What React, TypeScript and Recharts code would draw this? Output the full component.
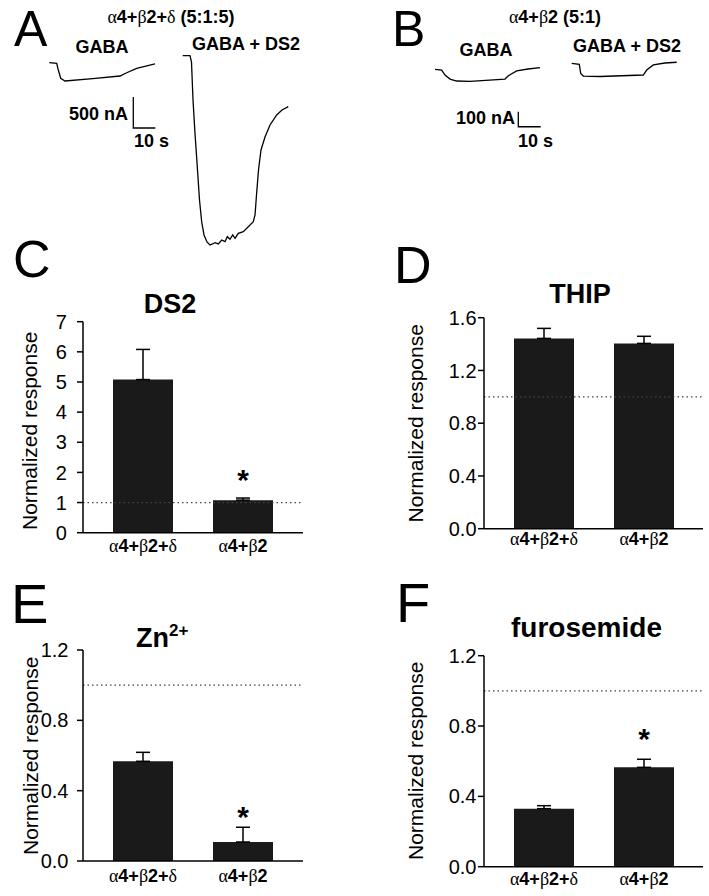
import React from 'react';
import { BarChart, Bar, XAxis, YAxis, ErrorBar, ReferenceLine, LineChart, Line, LabelList } from 'recharts';

const FONT = "'Liberation Sans', Arial, Helvetica, sans-serif";
const GREEK_FONT = "'Liberation Serif', 'Times New Roman', serif";

// ---------- bar data ----------
const receptors = ['α4+β2+δ', 'α4+β2'];

const ds2Means = [5.08, 1.08];
const ds2Errors = [1.0, 0.07];
const ds2Sig = [false, true];

const thipMeans = [1.443, 1.405];
const thipErrors = [0.076, 0.054];
const thipSig = [false, false];

const zincMeans = [0.567, 0.108];
const zincErrors = [0.051, 0.084];
const zincSig = [false, true];

const furoMeans = [0.33, 0.565];
const furoErrors = [0.017, 0.046];
const furoSig = [false, true];

const ds2Ticks = [0, 1, 2, 3, 4, 5, 6, 7];
const thipTicks = [0, 0.4, 0.8, 1.2, 1.6];
const lowTicks = [0, 0.4, 0.8, 1.2];

// ---------- trace data (time s, current nA) ----------
const traceAGaba = [
  { t: 4.23, i: -11 }, { t: 7.59, i: -21 }, { t: 8.32, i: -129 }, { t: 9.41, i: -263 },
  { t: 11.36, i: -306 }, { t: 24.0, i: -268 }, { t: 36.36, i: -226 }, { t: 39.41, i: -173 },
  { t: 43.95, i: -102 }, { t: 52.27, i: -32 },
];
const traceADs2 = [
  { t: 64.86, i: 102 }, { t: 68.18, i: 102 }, { t: 68.86, i: 0 }, { t: 69.55, i: -613 },
  { t: 70.45, i: -1150 }, { t: 71.59, i: -1742 }, { t: 72.5, i: -2226 }, { t: 73.5, i: -2581 },
  { t: 74.55, i: -2790 }, { t: 75.91, i: -2903 }, { t: 77.27, i: -2952 }, { t: 78.41, i: -2935 },
  { t: 79.55, i: -2915 }, { t: 81.05, i: -2935 }, { t: 82.59, i: -2871 }, { t: 84.09, i: -2898 },
  { t: 85.14, i: -2818 }, { t: 86.36, i: -2860 }, { t: 87.59, i: -2790 }, { t: 88.64, i: -2844 },
  { t: 90.14, i: -2763 }, { t: 92.41, i: -2737 }, { t: 94.68, i: -2656 }, { t: 96.95, i: -2576 },
  { t: 97.73, i: -2468 }, { t: 98.41, i: -2145 }, { t: 99.32, i: -1742 }, { t: 100.45, i: -1419 },
  { t: 102.27, i: -1210 }, { t: 104.55, i: -1016 }, { t: 107.59, i: -855 }, { t: 110.0, i: -774 },
  { t: 112.86, i: -721 },
];
const scaleBarA = [{ t: 42.41, i: -564.5 }, { t: 42.41, i: -1064.5 }, { t: 52.41, i: -1064.5 }];

const traceBGaba = [
  { t: 6.82, i: 0 }, { t: 9.86, i: -5 }, { t: 11.36, i: -38 }, { t: 13.64, i: -65 },
  { t: 16.68, i: -78 }, { t: 22.73, i: -81 }, { t: 38.64, i: -65 }, { t: 40.14, i: -43 },
  { t: 43.95, i: -11 }, { t: 49.09, i: 2 }, { t: 54.55, i: 11 },
];
const traceBDs2 = [
  { t: 68.95, i: 40 }, { t: 72.41, i: 33 }, { t: 73.05, i: -27 }, { t: 74.23, i: -45 },
  { t: 81.82, i: -48 }, { t: 101.5, i: -38 }, { t: 103.05, i: -5 }, { t: 106.05, i: 29 },
  { t: 111.36, i: 42 }, { t: 116.68, i: 47 },
];
const scaleBarB = [{ t: 44.68, i: -283 }, { t: 44.68, i: -383 }, { t: 54.86, i: -383 }];

// ---------- helpers ----------
const GREEK = /[αβδ]/;
function mixed(label: string) {
  const parts: { s: string; g: boolean }[] = [];
  for (const ch of label) {
    const g = GREEK.test(ch);
    const last = parts[parts.length - 1];
    if (last && last.g === g) last.s += ch;
    else parts.push({ s: ch, g });
  }
  return parts.map((p, k) => (
    <tspan key={k} fontFamily={p.g ? GREEK_FONT : FONT} fontWeight={p.g ? 'normal' : 'bold'}>
      {p.s}
    </tspan>
  ));
}

function XTick(props: any) {
  const { x, y, payload, dy } = props;
  return (
    <text x={x} y={y + dy} textAnchor="middle" fontSize={18} fill="#000" fontFamily={FONT} fontWeight="bold">
      {mixed(String(payload.value))}
    </text>
  );
}

function BarPanel(p: any) {
  const data = receptors.map((name, k) => ({
    name,
    mean: p.means[k],
    err: [0, p.errors[k]],
    sig: p.sig[k],
  }));
  const star = (lp: any) => {
    const vb = lp.viewBox || lp;
    const x = Number(vb.x ?? lp.x);
    const y = Number(vb.y ?? lp.y);
    const w = Number(vb.width ?? lp.width);
    const h = Number(vb.height ?? lp.height);
    const d = data[lp.index];
    if (!d || !d.sig) return null;
    const errTop = y - (d.err[1] * h) / d.mean;
    return (
      <text x={x + w / 2} y={errTop - p.starGap + 17} textAnchor="middle" fontSize={30} fontWeight="bold" fontFamily={FONT} fill="#000">
        *
      </text>
    );
  };
  return (
    <div style={{ position: 'absolute', left: p.left, top: p.top }}>
      <BarChart
        width={p.width}
        height={p.height}
        data={data}
        margin={{ top: p.marginTop, right: p.marginRight, bottom: 0, left: 0 }}
      >
        <XAxis
          dataKey="name"
          axisLine={{ stroke: '#000', strokeWidth: 1.5 }}
          tickLine={false}
          tickSize={0}
          tickMargin={0}
          height={p.xAxisHeight}
          padding={{ left: p.padL, right: p.padR }}
          interval={0}
          tick={(tp: any) => <XTick {...tp} dy={p.labelDy} />}
        />
        <YAxis
          type="number"
          domain={p.domain}
          ticks={p.ticks}
          allowDataOverflow
          interval={0}
          width={p.yAxisWidth}
          axisLine={{ stroke: '#000', strokeWidth: 1.5 }}
          tickLine={{ stroke: '#000', strokeWidth: 1.5 }}
          tickSize={6}
          tickMargin={p.tickMargin}
          tick={{ fill: '#000', fontSize: p.tickFont, fontFamily: FONT }}
          tickFormatter={(v: number) => v.toFixed(p.decimals)}
        />
        <ReferenceLine y={1} stroke="#444" strokeDasharray="1.5 3" strokeWidth={1.2} />
        <Bar dataKey="mean" fill="#1a1a1a" barSize={60} isAnimationActive={false}>
          <ErrorBar dataKey="err" width={7} stroke="#000" strokeWidth={1.5} direction="y" />
          <LabelList dataKey="mean" content={star} />
        </Bar>
      </BarChart>
    </div>
  );
}

function TracePanel(p: any) {
  return (
    <div style={{ position: 'absolute', left: p.left, top: p.top }}>
      <LineChart width={p.width} height={p.height} margin={{ top: 0, right: 0, bottom: 0, left: 0 }}>
        <XAxis type="number" dataKey="t" domain={p.tDomain} allowDataOverflow hide />
        <YAxis type="number" dataKey="i" domain={p.iDomain} allowDataOverflow hide />
        {p.series.map((s: any, k: number) => (
          <Line
            key={k}
            data={s}
            dataKey="i"
            type="linear"
            stroke="#000"
            strokeWidth={1.3}
            dot={false}
            isAnimationActive={false}
          />
        ))}
      </LineChart>
    </div>
  );
}

export default function App() {
  const txt = { fontFamily: FONT, fill: '#000' } as any;
  return (
    <div style={{ position: 'absolute', left: 0, top: 0, width: 709, height: 896, background: '#fff', overflow: 'hidden' }}>
      <TracePanel left={40} top={50} width={260} height={210} tDomain={[0, 118.18]} iDomain={[-3193.5, 193.5]}
        series={[traceAGaba, traceADs2, scaleBarA]} />
      <TracePanel left={420} top={50} width={280} height={100} tDomain={[0, 127.27]} iDomain={[-538, 128.7]}
        series={[traceBGaba, traceBDs2, scaleBarB]} />

      <BarPanel left={0} top={300} width={323} height={272.7} marginTop={21.7} marginRight={20} yAxisWidth={83}
        xAxisHeight={40} padL={10} padR={10} means={ds2Means} errors={ds2Errors} sig={ds2Sig}
        domain={[0, 7]} ticks={ds2Ticks} decimals={0} tickMargin={10} tickFont={20} labelDy={19} starGap={25} />
      <BarPanel left={400} top={300} width={309} height={268.7} marginTop={17.7} marginRight={6} yAxisWidth={84}
        xAxisHeight={40} padL={10} padR={9} means={thipMeans} errors={thipErrors} sig={thipSig}
        domain={[0, 1.6]} ticks={thipTicks} decimals={1} tickMargin={1.5} tickFont={20} labelDy={16.5} starGap={25} />
      <BarPanel left={0} top={630} width={323} height={266} marginTop={20} marginRight={20} yAxisWidth={83}
        xAxisHeight={35} padL={10} padR={10} means={zincMeans} errors={zincErrors} sig={zincSig}
        domain={[0, 1.2]} ticks={lowTicks} decimals={1} tickMargin={8.5} tickFont={20} labelDy={21} starGap={17} />
      <BarPanel left={400} top={630} width={309} height={266} marginTop={25.7} marginRight={6} yAxisWidth={84}
        xAxisHeight={29.3} padL={10} padR={9} means={furoMeans} errors={furoErrors} sig={furoSig}
        domain={[0, 1.2]} ticks={lowTicks} decimals={1} tickMargin={1.5} tickFont={20} labelDy={18.5} starGap={27} />

      <svg width={709} height={896} style={{ position: 'absolute', left: 0, top: 0, pointerEvents: 'none' }}>
        {/* panel letters */}
        <text x={14} y={46} fontSize={50} {...txt}>A</text>
        <text x={392} y={46} fontSize={50} {...txt}>B</text>
        <text x={13} y={277} fontSize={52} {...txt}>C</text>
        <text x={394} y={283} fontSize={52} {...txt}>D</text>
        <text x={11} y={623} fontSize={56} {...txt}>E</text>
        <text x={396} y={622} fontSize={56} {...txt}>F</text>

        {/* trace annotations A */}
        <text x={171} y={22.7} fontSize={18} textAnchor="middle" fontWeight="bold" {...txt}>{mixed('α4+β2+δ (5:1:5)')}</text>
        <text x={102} y={52.7} fontSize={18} textAnchor="middle" fontWeight="bold" {...txt}>GABA</text>
        <text x={246} y={50} fontSize={18} textAnchor="middle" fontWeight="bold" {...txt}>GABA + DS2</text>
        <text x={128} y={120} fontSize={18} textAnchor="end" fontWeight="bold" {...txt}>500 nA</text>
        <text x={134} y={147.3} fontSize={18} textAnchor="start" fontWeight="bold" {...txt}>10 s</text>

        {/* trace annotations B */}
        <text x={555} y={23.3} fontSize={18} textAnchor="middle" fontWeight="bold" {...txt}>{mixed('α4+β2 (5:1)')}</text>
        <text x={486} y={56} fontSize={18} textAnchor="middle" fontWeight="bold" {...txt}>GABA</text>
        <text x={627} y={51.7} fontSize={18} textAnchor="middle" fontWeight="bold" {...txt}>GABA + DS2</text>
        <text x={515} y={124.3} fontSize={18} textAnchor="end" fontWeight="bold" {...txt}>100 nA</text>
        <text x={518} y={146.7} fontSize={18} textAnchor="start" fontWeight="bold" {...txt}>10 s</text>

        {/* panel titles */}
        <text x={170} y={313.3} fontSize={27} textAnchor="middle" fontWeight="bold" {...txt}>DS2</text>
        <text x={580} y={303.3} fontSize={27} textAnchor="middle" fontWeight="bold" {...txt}>THIP</text>
        <text x={136} y={647.3} fontSize={27} textAnchor="start" fontWeight="bold" {...txt}>
          Zn<tspan dy={-11} fontSize={17}>2+</tspan>
        </text>
        <text x={586.5} y={637.3} fontSize={28} textAnchor="middle" fontWeight="bold" {...txt}>furosemide</text>

        {/* y-axis labels */}
        <text transform="translate(36.7,430.8) rotate(-90)" fontSize={21} textAnchor="middle" {...txt}>Normalized response</text>
        <text transform="translate(423.3,423.3) rotate(-90)" fontSize={21} textAnchor="middle" {...txt}>Normalized response</text>
        <text transform="translate(38.3,755.8) rotate(-90)" fontSize={21} textAnchor="middle" {...txt}>Normalized response</text>
        <text transform="translate(423.3,760.8) rotate(-90)" fontSize={21} textAnchor="middle" {...txt}>Normalized response</text>
      </svg>
    </div>
  );
}
